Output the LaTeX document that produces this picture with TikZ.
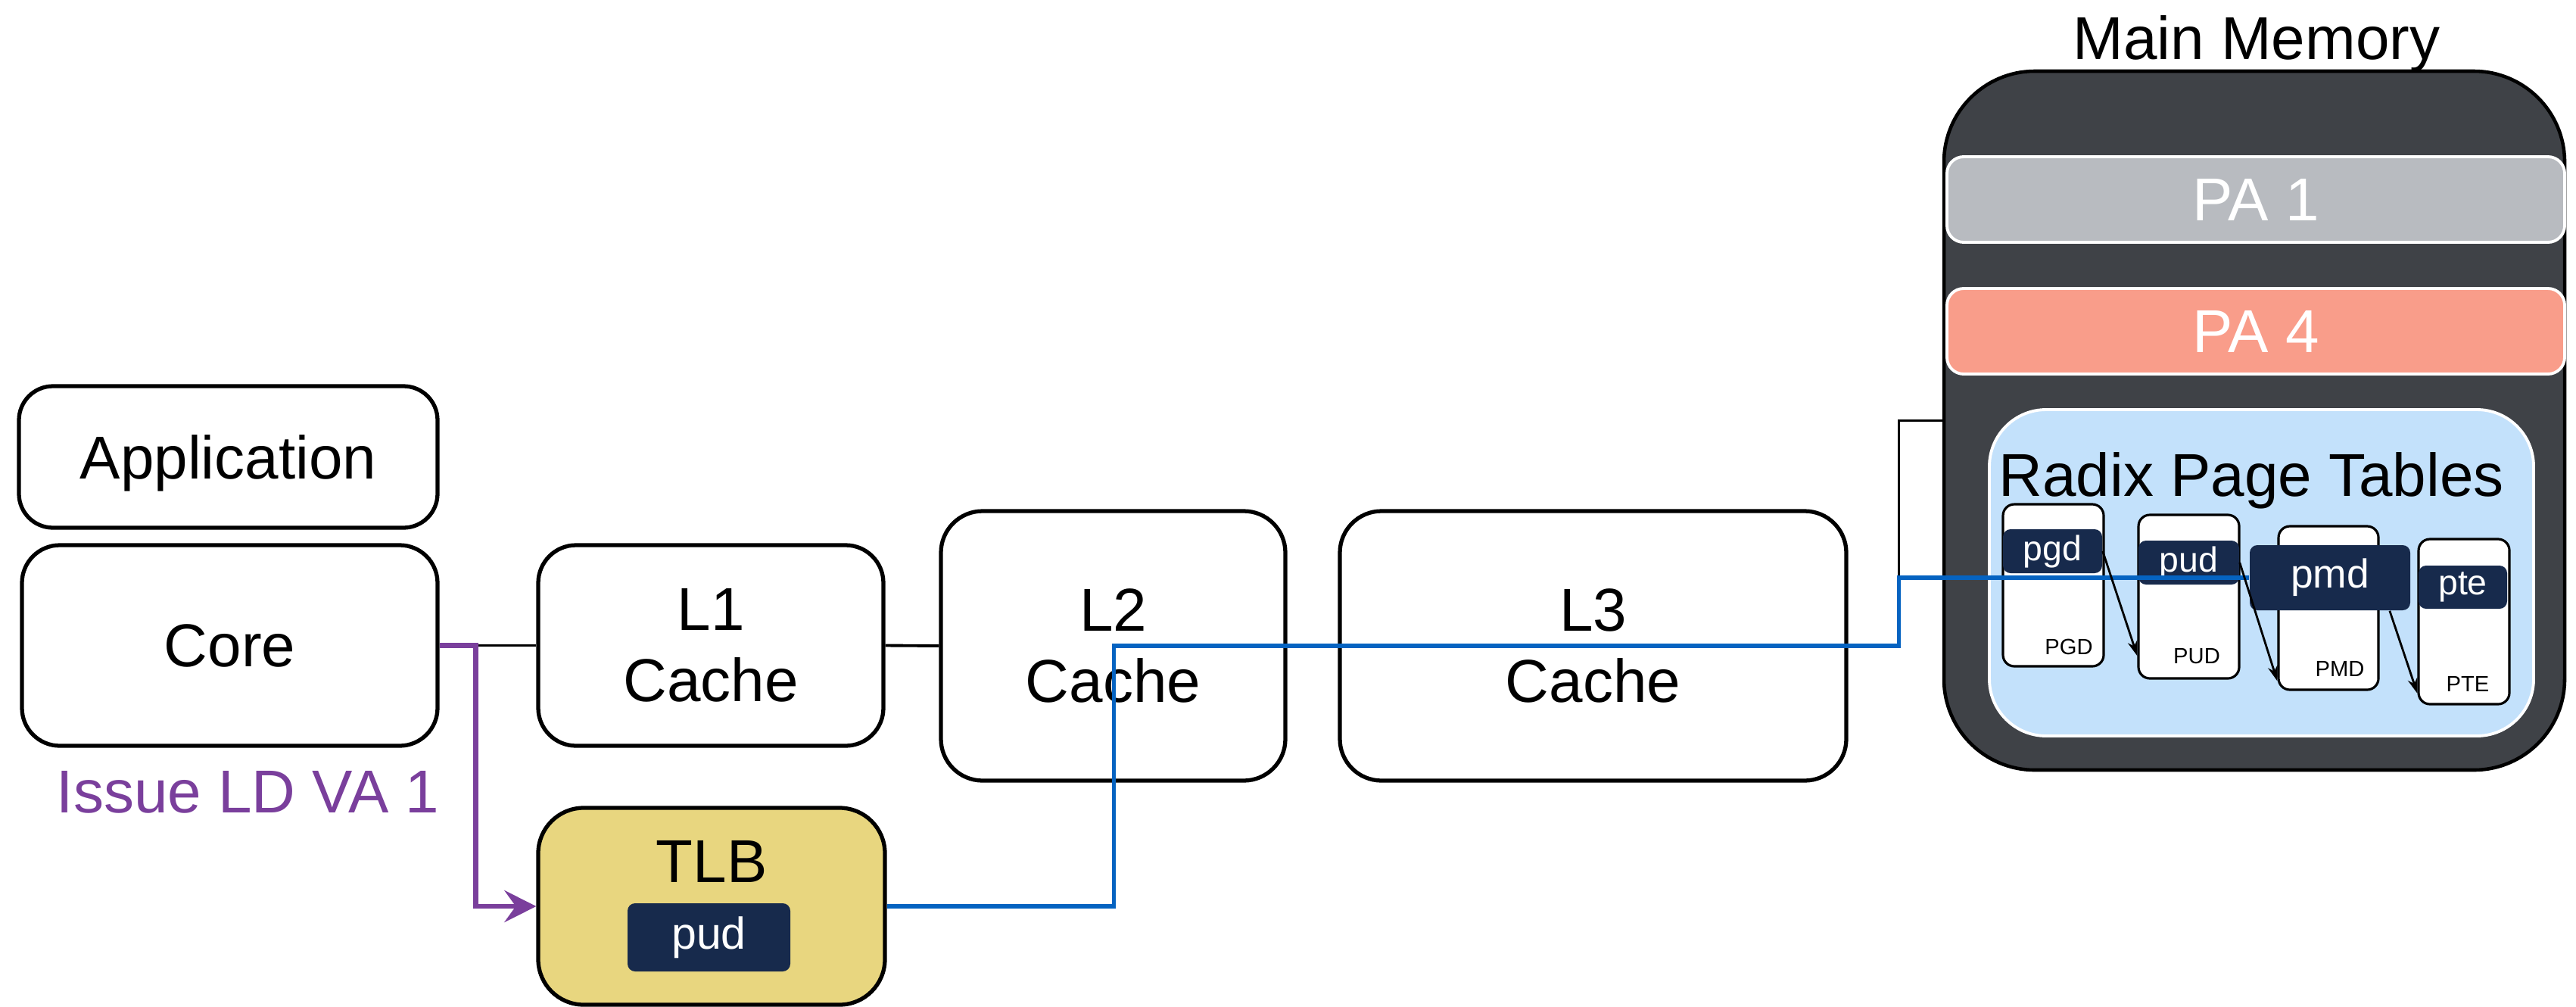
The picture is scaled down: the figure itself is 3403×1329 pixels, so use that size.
\documentclass[tikz,border=0pt]{standalone}
\usepackage{fontspec}
\setmainfont{Liberation Sans}
\usetikzlibrary{arrows.meta}

\definecolor{memgray}{HTML}{3F4247}
\definecolor{pagray}{HTML}{B8BBC0}
\definecolor{pasalmon}{HTML}{F99D8A}
\definecolor{radixblue}{HTML}{C3E1FB}
\definecolor{navy}{HTML}{172A4C}
\definecolor{tlbyellow}{HTML}{E8D67F}
\definecolor{issuepurple}{HTML}{7A3F9C}
\definecolor{walkblue}{HTML}{0563C1}

\tikzset{
  bigtext/.style={font=\fontsize{22.76}{26.75}\selectfont, inner sep=0pt},
  unit/.style={draw, line width=1.5pt, fill=white, rounded corners=5mm, inner sep=0pt, align=center, bigtext},
  region/.style={draw=white, line width=1.1pt, rounded corners=2.2mm, minimum width=81.6mm, minimum height=11.3mm, text=white, bigtext},
  table/.style={draw, line width=0.9pt, fill=white, rounded corners=1.5mm},
  tag/.style={fill=navy, text=white, rounded corners=1mm, inner sep=0pt},
  level/.style={font=\fontsize{8.3}{10}\selectfont, inner sep=0pt},
  link/.style={line width=1.1pt},
  walk/.style={draw=walkblue, line width=1.5pt},
  descend/.style={line width=0.8pt, -{Stealth[length=2mm,width=1.3mm]}}
}

\begin{document}
\begin{tikzpicture}[x=0.1mm,y=-0.1mm]
\useasboundingbox (0,0) rectangle (3403,1329);

% core side
\node[unit, minimum width=55.3mm, minimum height=18.7mm, rounded corners=4.5mm, text depth=0pt] (app) at (301.5,603.5) {Application};
\node[unit, minimum width=54.9mm, minimum height=26.5mm] (core) at (303.5,852.5) {Core};
\node[bigtext, text=issuepurple, anchor=base] (issue) at (327.5,1073) {Issue LD VA 1};

% caches
\node[unit, minimum width=45.6mm, minimum height=26.5mm] (l1) at (939,852.5) {L1\\Cache};
\node[unit, minimum width=45.5mm, minimum height=35.6mm, rounded corners=5.5mm] (l2) at (1470.5,853) {L2\\Cache};
\node[unit, minimum width=66.9mm, minimum height=35.6mm, rounded corners=5.5mm] (l3) at (2104.5,853) {L3\\Cache};

% tlb
\node[unit, fill=tlbyellow, minimum width=45.8mm, minimum height=26mm, rounded corners=6mm] (tlb) at (940,1197) {};
\node[bigtext] (tlbname) at (940,1138) {TLB};
\node[tag, minimum width=21.5mm, minimum height=9mm, font=\fontsize{16.8}{20}\selectfont] (tlbpud) at (936.5,1238) {pud};

% main memory
\node[draw, line width=1.3pt, fill=memgray, rounded corners=12mm, minimum width=82mm, minimum height=92.3mm] (mem) at (2978,555.5) {};
\node[bigtext, anchor=base] (memname) at (2981,78) {Main Memory};
\node[region, fill=pagray] (pa1) at (2980,263.5) {PA 1};
\node[region, fill=pasalmon] (pa4) at (2980,437.5) {PA 4};
\node[draw=white, line width=1.1pt, fill=radixblue, rounded corners=7.5mm, minimum width=71.9mm, minimum height=43.1mm] (radix) at (2987.5,756.5) {};
\node[bigtext, anchor=base west] (radixname) at (2640,655) {Radix Page Tables};

% page table levels
\node[table, minimum width=13.3mm, minimum height=21.4mm] (pgd) at (2712.5,773) {};
\node[table, minimum width=13.3mm, minimum height=21.6mm] (pud) at (2891.5,788) {};
\node[table, minimum width=13.2mm, minimum height=21.6mm] (pmd) at (3076,803) {};
\node[table, minimum width=12mm, minimum height=21.8mm] (pte) at (3255,821) {};
\node[level] (pgdname) at (2733,854) {PGD};
\node[level] (pudname) at (2902,867) {PUD};
\node[level] (pmdname) at (3091,883) {PMD};
\node[level] (ptename) at (3260,903) {PTE};
\node[tag, minimum width=13.1mm, minimum height=5.8mm, font=\fontsize{13.2}{15}\selectfont] (pgdtag) at (2711.5,728) {pgd};
\node[tag, minimum width=13.3mm, minimum height=5.8mm, font=\fontsize{13.2}{15}\selectfont] (pudtag) at (2891.5,743) {pud};
\node[tag, minimum width=21.2mm, minimum height=8.6mm, font=\fontsize{15.2}{17}\selectfont] (pmdtag) at (3078,763) {pmd};
\node[tag, minimum width=11.7mm, minimum height=5.7mm, font=\fontsize{13.2}{15}\selectfont] (ptetag) at (3253.5,775.5) {pte};

% connections
\draw[link] (core.east) -- (l1.west);
\draw[link] (l1.east) -- (l2.west);
\draw[link] (l2.east) -- (l3.west);
\draw[line width=0.7pt] (l3.east) -- ++(67,0) coordinate (bend) |- (mem.west);
\draw[issuepurple, line width=1.9pt, -{Stealth[length=4.2mm,width=4.2mm,inset=1.5mm]}] (core.east) -- ++(48,0) |- (tlb.west);
\draw[walk] (tlb.east) -- ++(300,0) |- (bend) |- (pmdtag.west);

% walk through the levels
\draw[descend] (pgdtag.east) -- (pud.229);
\draw[descend] (pudtag.east) -- (pmd.235);
\draw[descend] (pmdtag.331) -- (pte.237);
\end{tikzpicture}
\end{document}
